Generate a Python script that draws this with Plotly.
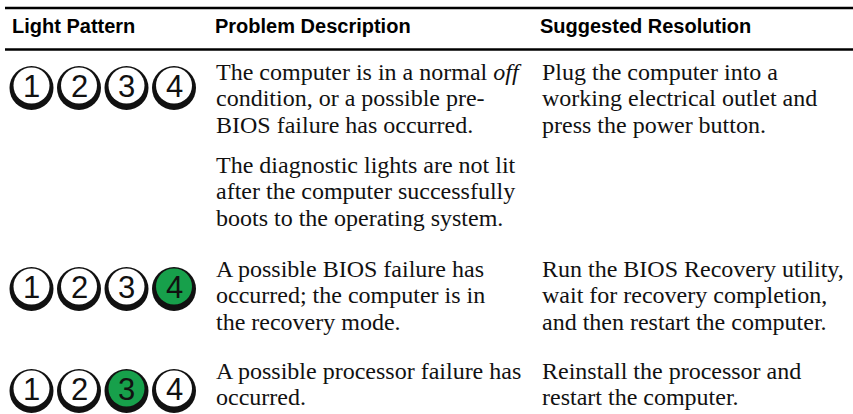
import plotly.graph_objects as go

# ---------------- data ----------------
headers = ["Light Pattern", "Problem Description", "Suggested Resolution"]
light_numbers = ["1", "2", "3", "4"]
# 1 = light is lit (green), 0 = off
patterns = [
    [0, 0, 0, 0],
    [0, 0, 0, 1],
    [0, 0, 1, 0],
]
descriptions = [
    [["The computer is in a normal <i>off</i>",
      "condition, or a possible pre-",
      "BIOS failure has occurred."],
     ["The diagnostic lights are not lit",
      "after the computer successfully",
      "boots to the operating system."]],
    [["A possible BIOS failure has",
      "occurred; the computer is in",
      "the recovery mode."]],
    [["A possible processor failure has",
      "occurred."]],
]
resolutions = [
    [["Plug the computer into a",
      "working electrical outlet and",
      "press the power button."]],
    [["Run the BIOS Recovery utility,",
      "wait for recovery completion,",
      "and then restart the computer."]],
    [["Reinstall the processor and",
      "restart the computer."]],
]

# ---------------- layout constants ----------------
W, H = 853, 414
col_x = [10, 215, 541]
header_x = [11, 214, 539]
header_base = 33
rule_y = [8, 49.5]
rule_w = 2.5
row_first_base = [80, 277, 379]
row_circle_cy = [88, 289, 391]
line_h = 26.5
para_gap = 13.5
circle_cx0, circle_pitch = 31.5, 47.5
outer_d, inner_d, inner_shift = 44, 36, 2.5

SERIF = "Liberation Serif, Times New Roman, serif"
HEAD = "Liberation Sans, Arial, sans-serif"
SANS = "Liberation Sans, Arial, sans-serif"
body_size = 24
head_size = 20
num_size = 31
GREEN = "#17a04b"

fig = go.Figure()
annotations = []
shapes = []

# rules (filled bands, drawn above everything)
for y in rule_y:
    shapes.append(dict(type="rect", xref="paper", yref="paper",
                       x0=5 / W, x1=1,
                       y0=1 - (y + rule_w / 2) / H, y1=1 - (y - rule_w / 2) / H,
                       fillcolor="black", line=dict(width=0), layer="above"))

# headers
for hx, htxt in zip(header_x, headers):
    annotations.append(dict(x=hx, y=header_base - 0.34 * head_size, text="<b>%s</b>" % htxt,
                            xanchor="left", yanchor="middle", showarrow=False,
                            font=dict(family=HEAD, size=head_size, color="black"),
                            borderpad=0))

# text blocks
def add_block(paras, x, base):
    y = base
    for pi, para in enumerate(paras):
        if pi > 0:
            y += para_gap
        for line in para:
            annotations.append(dict(x=x, y=y - 0.34 * body_size, text=line,
                                    xanchor="left", yanchor="middle", showarrow=False,
                                    font=dict(family=SERIF, size=body_size, color="#111"),
                                    borderpad=0))
            y += line_h

for r in range(len(patterns)):
    add_block(descriptions[r], col_x[1], row_first_base[r])
    add_block(resolutions[r], col_x[2], row_first_base[r])

# light circles
ox, oy, ix, iy, icol, tx, ty, tt = [], [], [], [], [], [], [], []
for r, pat in enumerate(patterns):
    cy = row_circle_cy[r]
    for i, lit in enumerate(pat):
        cx = circle_cx0 + i * circle_pitch
        ox.append(cx); oy.append(cy)
        ix.append(cx); iy.append(cy - inner_shift)
        icol.append(GREEN if lit else "white")
        tx.append(cx); ty.append(cy - inner_shift); tt.append(light_numbers[i])

fig.add_trace(go.Scatter(x=ox, y=oy, mode="markers", hoverinfo="skip",
                         marker=dict(size=outer_d, color="#111", line=dict(width=0))))
fig.add_trace(go.Scatter(x=ix, y=iy, mode="markers", hoverinfo="skip",
                         marker=dict(size=inner_d, color=icol, line=dict(width=0))))
for x, y, t in zip(tx, ty, tt):
    annotations.append(dict(x=x, y=y + 1, text=t, xanchor="center", yanchor="middle",
                            showarrow=False, borderpad=0,
                            font=dict(family=SANS, size=num_size, color="#111")))

fig.update_layout(
    width=W, height=H, margin=dict(l=0, r=0, t=0, b=0),
    paper_bgcolor="white", plot_bgcolor="white", showlegend=False,
    xaxis=dict(range=[0, W], visible=False, fixedrange=True),
    yaxis=dict(range=[H, 0], visible=False, fixedrange=True),
    annotations=annotations, shapes=shapes,
)
fig.write_html("out.html", config={"displayModeBar": False},
               post_script="document.body.style.margin='0';document.body.style.overflow='hidden';")
